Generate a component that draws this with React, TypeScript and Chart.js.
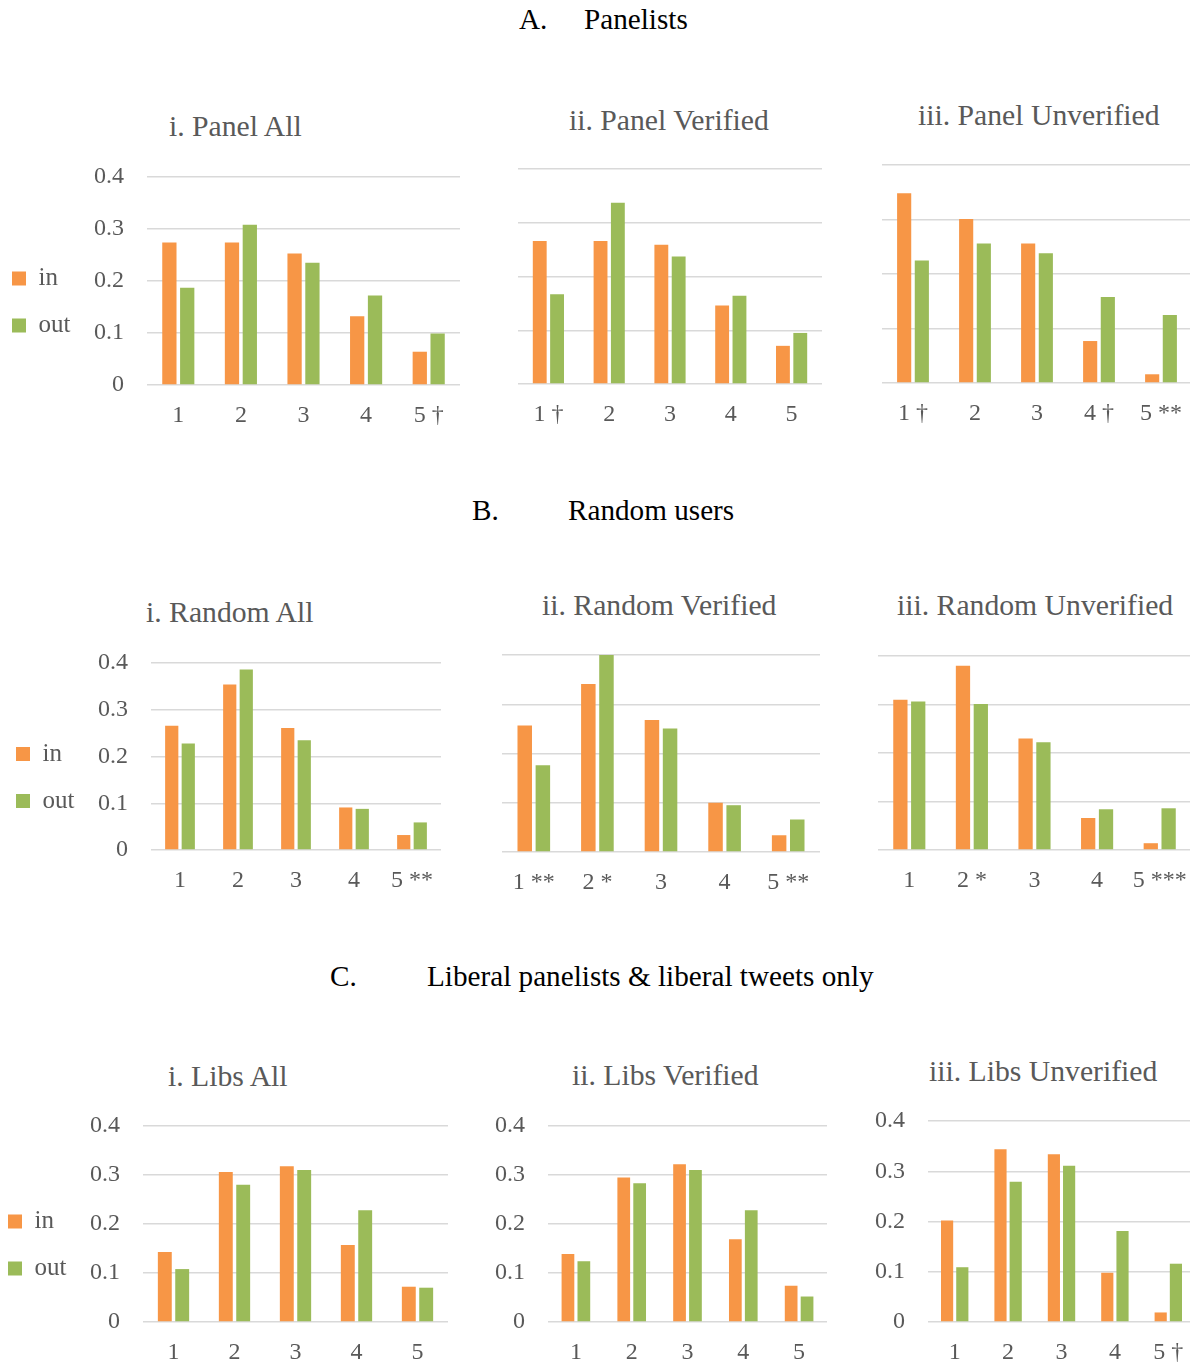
import React, { useEffect, useRef } from "react";
import { Chart, registerables } from "chart.js";

Chart.register(...registerables);

// ---------- data ----------
const SERIES_NAMES = ["in", "out"];

const panelAllLabels = ["1", "2", "3", "4", "5 †"];
const panelAllIn = [0.274, 0.274, 0.253, 0.132, 0.064];
const panelAllOut = [0.187, 0.308, 0.235, 0.172, 0.099];

const panelVerLabels = ["1 †", "2", "3", "4", "5"];
const panelVerIn = [0.266, 0.266, 0.259, 0.146, 0.071];
const panelVerOut = [0.167, 0.337, 0.237, 0.164, 0.095];

const panelUnvLabels = ["1 †", "2", "3", "4 †", "5 **"];
const panelUnvIn = [0.348, 0.301, 0.256, 0.077, 0.016];
const panelUnvOut = [0.225, 0.256, 0.238, 0.158, 0.125];

const randomAllLabels = ["1", "2", "3", "4", "5 **"];
const randomAllIn = [0.266, 0.354, 0.261, 0.091, 0.032];
const randomAllOut = [0.228, 0.386, 0.235, 0.088, 0.059];

const randomVerLabels = ["1 **", "2 *", "3", "4", "5 **"];
const randomVerIn = [0.257, 0.341, 0.268, 0.1, 0.034];
const randomVerOut = [0.176, 0.4, 0.251, 0.095, 0.066];

const randomUnvLabels = ["1", "2 *", "3", "4", "5 ***"];
const randomUnvIn = [0.31, 0.38, 0.23, 0.066, 0.014];
const randomUnvOut = [0.306, 0.301, 0.222, 0.084, 0.086];

const libsAllLabels = ["1", "2", "3", "4", "5"];
const libsAllIn = [0.143, 0.306, 0.318, 0.157, 0.072];
const libsAllOut = [0.108, 0.28, 0.31, 0.228, 0.07];

const libsVerLabels = ["1", "2", "3", "4", "5"];
const libsVerIn = [0.139, 0.295, 0.322, 0.169, 0.074];
const libsVerOut = [0.124, 0.283, 0.31, 0.228, 0.052];

const libsUnvLabels = ["1", "2", "3", "4", "5 †"];
const libsUnvIn = [0.202, 0.344, 0.334, 0.098, 0.019];
const libsUnvOut = [0.109, 0.279, 0.311, 0.181, 0.116];

const Y_MIN = 0;
const Y_MAX = 0.4;
const Y_STEP = 0.1;

const SECTION_HEADS = [
  { letter: "A.", text: "Panelists" },
  { letter: "B.", text: "Random users" },
  { letter: "C.", text: "Liberal panelists & liberal tweets only" },
];

// ---------- styles / layout ----------
const IN_COLOR = "#F79646";
const OUT_COLOR = "#9BBB59";
const TEXT_GRAY = "#595959";
const GRID_COLOR = "#D9D9D9";
const FONT = "'Liberation Serif', 'Times New Roman', serif";

const PAD_TOP = 40;
const X_AXIS_H = 42;
const PAD_BOTTOM = 6;
const LEGEND_PAD = 22;
const Y_AXIS_W = 80;
const TITLE_SIZE = 29.7;
const HEAD_SIZE = 29.2;

type PanelCfg = {
  title: string;
  labels: string[];
  inVals: number[];
  outVals: number[];
  L: number;
  R: number;
  T: number;
  B: number;
  legend: boolean;
  yLabels: boolean;
  legendX: number;
  titleLeft: number;
  titleBase: number;
};

const PANELS: PanelCfg[] = [
  { title: "i. Panel All", labels: panelAllLabels, inVals: panelAllIn, outVals: panelAllOut, L: 147, R: 460, T: 177, B: 385, legend: true, yLabels: true, legendX: 12, titleLeft: 169, titleBase: 137 },
  { title: "ii. Panel Verified", labels: panelVerLabels, inVals: panelVerIn, outVals: panelVerOut, L: 518, R: 822, T: 169, B: 384, legend: false, yLabels: false, legendX: 0, titleLeft: 569, titleBase: 131 },
  { title: "iii. Panel Unverified", labels: panelUnvLabels, inVals: panelUnvIn, outVals: panelUnvOut, L: 882, R: 1192, T: 165, B: 383, legend: false, yLabels: false, legendX: 0, titleLeft: 918, titleBase: 126 },
  { title: "i. Random All", labels: randomAllLabels, inVals: randomAllIn, outVals: randomAllOut, L: 151, R: 441, T: 663, B: 850, legend: true, yLabels: true, legendX: 16, titleLeft: 146, titleBase: 623 },
  { title: "ii. Random Verified", labels: randomVerLabels, inVals: randomVerIn, outVals: randomVerOut, L: 502, R: 820, T: 655, B: 852, legend: false, yLabels: false, legendX: 0, titleLeft: 542, titleBase: 616 },
  { title: "iii. Random Unverified", labels: randomUnvLabels, inVals: randomUnvIn, outVals: randomUnvOut, L: 878, R: 1191, T: 656, B: 850, legend: false, yLabels: false, legendX: 0, titleLeft: 897, titleBase: 616 },
  { title: "i. Libs All", labels: libsAllLabels, inVals: libsAllIn, outVals: libsAllOut, L: 143, R: 448, T: 1126, B: 1322, legend: true, yLabels: true, legendX: 8, titleLeft: 168, titleBase: 1087 },
  { title: "ii. Libs Verified", labels: libsVerLabels, inVals: libsVerIn, outVals: libsVerOut, L: 548, R: 827, T: 1126, B: 1322, legend: false, yLabels: true, legendX: 0, titleLeft: 572, titleBase: 1086 },
  { title: "iii. Libs Unverified", labels: libsUnvLabels, inVals: libsUnvIn, outVals: libsUnvOut, L: 928, R: 1195, T: 1121, B: 1322, legend: false, yLabels: true, legendX: 0, titleLeft: 929, titleBase: 1082 },
];

const HEAD_POS = [
  { letterLeft: 519, textLeft: 584, base: 29 },
  { letterLeft: 472, textLeft: 568, base: 520 },
  { letterLeft: 330, textLeft: 427, base: 986 },
];

function BarPanel({ cfg }: { cfg: PanelCfg }) {
  const ref = useRef<HTMLCanvasElement | null>(null);
  const canvasLeft = cfg.legend
    ? cfg.legendX - LEGEND_PAD
    : cfg.yLabels
    ? cfg.L - Y_AXIS_W
    : cfg.L;
  const canvasTop = cfg.T - PAD_TOP;
  const width = cfg.R - canvasLeft;
  const height = cfg.B - cfg.T + PAD_TOP + X_AXIS_H + PAD_BOTTOM;

  useEffect(() => {
    const canvas = ref.current;
    if (!canvas) return;
    const chart = new Chart(canvas, {
      type: "bar",
      data: {
        labels: cfg.labels,
        datasets: [
          { label: SERIES_NAMES[0], data: cfg.inVals, backgroundColor: IN_COLOR, borderWidth: 0, categoryPercentage: 0.57, barPercentage: 0.8 },
          { label: SERIES_NAMES[1], data: cfg.outVals, backgroundColor: OUT_COLOR, borderWidth: 0, categoryPercentage: 0.57, barPercentage: 0.8 },
        ],
      },
      options: {
        animation: false,
        responsive: false,
        devicePixelRatio: 1,
        layout: { padding: { top: PAD_TOP, bottom: PAD_BOTTOM, left: 0, right: 0 } },
        plugins: {
          legend: {
            display: cfg.legend,
            position: "left",
            labels: {
              boxWidth: 14,
              boxHeight: 14,
              padding: LEGEND_PAD,
              color: TEXT_GRAY,
              font: { family: FONT, size: 25 },
            },
          },
          tooltip: { enabled: false },
          title: { display: false },
        },
        scales: {
          x: {
            grid: { display: false, drawTicks: false },
            border: { display: false },
            ticks: {
              color: TEXT_GRAY,
              font: { family: FONT, size: 24 },
              padding: 16,
              maxRotation: 0,
              autoSkip: false,
            },
            afterFit: (s: any) => {
              s.height = X_AXIS_H;
              s.paddingLeft = 0;
              s.paddingRight = 0;
            },
          },
          y: {
            min: Y_MIN,
            max: Y_MAX,
            ticks: {
              display: cfg.yLabels,
              stepSize: Y_STEP,
              color: TEXT_GRAY,
              font: { family: FONT, size: 24 },
              padding: 23,
            },
            grid: { color: GRID_COLOR, lineWidth: 1.5, drawTicks: false },
            border: { display: false },
            afterFit: (s: any) => {
              const lw = cfg.legend && s.chart.legend ? s.chart.legend.width : 0;
              s.width = Math.max(0, cfg.L - canvasLeft - lw);
            },
          },
        },
      },
    } as any);
    return () => chart.destroy();
  }, []);

  return (
    <canvas
      ref={ref}
      width={width}
      height={height}
      style={{ position: "absolute", left: canvasLeft, top: canvasTop, width, height }}
    />
  );
}

// baseline -> top for Liberation Serif with line-height equal to font size
function topFromBase(base: number, size: number) {
  return base - (0.891 * size - (1.107 * size - size) / 2);
}

export default function App() {
  return (
    <div
      style={{
        position: "absolute",
        left: 0,
        top: 0,
        width: 1190,
        height: 1367,
        overflow: "hidden",
        background: "#ffffff",
      }}
    >
      {SECTION_HEADS.map((h, i) => (
        <React.Fragment key={h.letter}>
          <div style={{ position: "absolute", left: HEAD_POS[i].letterLeft, top: topFromBase(HEAD_POS[i].base, HEAD_SIZE), fontFamily: FONT, fontSize: HEAD_SIZE, lineHeight: HEAD_SIZE + "px", color: "#000", whiteSpace: "nowrap" }}>
            {h.letter}
          </div>
          <div style={{ position: "absolute", left: HEAD_POS[i].textLeft, top: topFromBase(HEAD_POS[i].base, HEAD_SIZE), fontFamily: FONT, fontSize: HEAD_SIZE, lineHeight: HEAD_SIZE + "px", color: "#000", whiteSpace: "nowrap" }}>
            {h.text}
          </div>
        </React.Fragment>
      ))}
      {PANELS.map((p) => (
        <React.Fragment key={p.title}>
          <div style={{ position: "absolute", left: p.titleLeft, top: topFromBase(p.titleBase, TITLE_SIZE), fontFamily: FONT, fontSize: TITLE_SIZE, lineHeight: TITLE_SIZE + "px", color: TEXT_GRAY, whiteSpace: "nowrap" }}>
            {p.title}
          </div>
          <BarPanel cfg={p} />
        </React.Fragment>
      ))}
    </div>
  );
}
